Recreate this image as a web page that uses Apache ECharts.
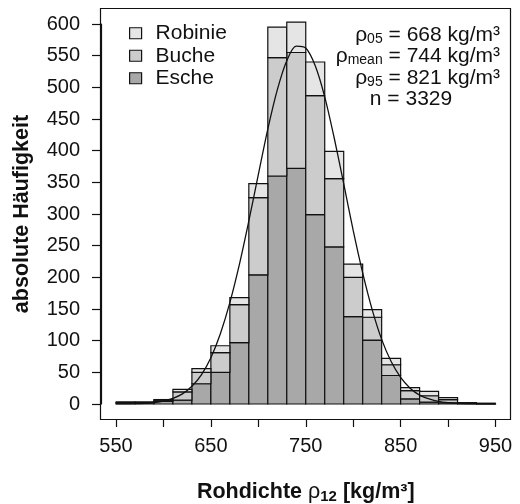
<!DOCTYPE html>
<html><head><meta charset="utf-8">
<script src="https://cdn.jsdelivr.net/npm/echarts@6/dist/echarts.min.js"></script>
<style>html,body{margin:0;padding:0;background:#fff}#c{width:520px;height:504px}</style>
</head><body><div id="c"></div>
<script>
// ---- data ----
const binStarts = [550,570,590,610,630,650,670,690,710,730,750,770,790,810,830,850,870,890,910,930];
const binWidth = 20;
const esche   = [2,2,4,6,32,50,97,204,360,372,299,248,138,101,45,8,3,2,1,0];
const buche   = [1,1,2,13,18,31,60,122,187,183,188,108,62,36,17,13,10,5,1,1];
const robinie = [0,0,1,4,6,11,11,22,48,48,53,43,21,12,10,5,7,3,0,0];
const curveX = [550,560,570,580,590,600,610,620,630,640,650,660,670,680,690,700,710,720,730,740,750,760,770,780,790,800,810,820,830,840,850,860,870,880,890,900,910,920,930,940,950];
const curveY = [0.1,0.2,0.5,1.1,2.4,4.7,8.9,16,28,46,73,111,160,220,289,362,434,496,542,565,562,534,485,420,348,274,207,149,102,67,42,25,14,8,4,2,1,0.4,0.2,0.1,0];
const xTickLabels = [550,650,750,850,950];
const statLines = [['05',' = 668 kg/m³'],['mean',' = 744 kg/m³'],['95',' = 821 kg/m³']];
const nText = 'n = 3329';

const FONT = "'Liberation Sans', Arial, Helvetica, sans-serif";
const chart = echarts.init(document.getElementById('c'), null, {renderer:'canvas'});

function stackData(arr, below) {
  return binStarts.map((s, i) => {
    let low = 0;
    below.forEach(b => { low += b[i]; });
    return [s, s + binWidth, low, low + arr[i]];
  });
}
function barSeries(name, color, arr, below) {
  return {
    type: 'custom', name: name,
    data: stackData(arr, below),
    encode: {x: [0, 1], y: [2, 3]},
    itemStyle: {color: color, borderColor: '#111', borderWidth: 1.2},
    z: 2,
    renderItem: function (params, api) {
      const p0 = api.coord([api.value(0), api.value(2)]);
      const p1 = api.coord([api.value(1), api.value(3)]);
      return {
        type: 'rect',
        shape: {x: p0[0], y: p1[1], width: p1[0] - p0[0], height: p0[1] - p1[1]},
        style: {fill: color, stroke: '#111', lineWidth: 1.2}
      };
    }
  };
}

const graphics = [
  {type: 'rect', shape: {x: 100.5, y: 8.5, width: 410, height: 411}, style: {fill: 'rgba(0,0,0,0)', stroke: '#111', lineWidth: 1.2}, z: 100, silent: true}
];
statLines.forEach((l, i) => {
  graphics.push({
    type: 'text', z: 10, silent: true,
    style: {
      text: '{r|ρ}{s|' + l[0] + '}{r|' + l[1] + '}',
      x: 500, y: 35 + i * 21.5, align: 'right', verticalAlign: 'middle',
      rich: {
        r: {fontSize: 21, fontFamily: FONT, fill: '#111', lineHeight: 22},
        s: {fontSize: 14, fontFamily: FONT, fill: '#111', lineHeight: 20, verticalAlign: 'bottom'}
      }
    }
  });
});
graphics.push({
  type: 'text', z: 10, silent: true,
  style: {text: nText, x: 411, y: 35 + 3 * 21.5, align: 'center', verticalAlign: 'middle',
    fontSize: 21, fontFamily: FONT, fill: '#111'}
});

chart.setOption({
  animation: false,
  backgroundColor: '#fff',
  textStyle: {fontFamily: FONT},
  grid: {left: 116, top: 24, width: 379.5, height: 380, containLabel: false, outerBoundsMode: 'none'},
  legend: {
    orient: 'vertical', left: 124, top: 17,
    data: ['Robinie', 'Buche', 'Esche'],
    icon: 'rect', itemWidth: 12, itemHeight: 11, itemGap: 0,
    itemStyle: {borderColor: '#111', borderWidth: 1.2},
    textStyle: {fontSize: 21, fontFamily: FONT, color: '#111', lineHeight: 22.5, padding: [0, 0, 0, 9]},
    selectedMode: false
  },
  xAxis: {
    type: 'value', min: 550, max: 950, interval: 50, offset: 15,
    axisLine: {show: true, onZero: false, lineStyle: {color: '#111', width: 1.2}},
    axisTick: {show: true, length: 8, lineStyle: {color: '#111', width: 1.2}},
    splitLine: {show: false},
    axisLabel: {
      fontSize: 20, color: '#111', margin: 17, fontFamily: FONT,
      formatter: v => xTickLabels.indexOf(v) >= 0 ? String(v) : ''
    },
    name: '{b|Rohdichte }{g|ρ}{sb|12}{b| [kg/m³]}',
    nameLocation: 'middle', nameGap: 61, nameMoveOverlap: false,
    nameTextStyle: {
      rich: {
        b: {fontSize: 21.5, fontWeight: 'bold', fontFamily: FONT, color: '#111', lineHeight: 24},
        g: {fontSize: 21.5, fontFamily: FONT, color: '#111', lineHeight: 24},
        sb: {fontSize: 15, fontWeight: 'bold', fontFamily: FONT, color: '#111', lineHeight: 15, verticalAlign: 'bottom'}
      }
    }
  },
  yAxis: {
    type: 'value', min: 0, max: 600, interval: 50, offset: 15,
    axisLine: {show: true, onZero: false, lineStyle: {color: '#111', width: 1.2}},
    axisTick: {show: true, length: 9, lineStyle: {color: '#111', width: 1.2}},
    splitLine: {show: false},
    axisLabel: {fontSize: 20, color: '#111', margin: 21, fontFamily: FONT},
    name: 'absolute Häufigkeit',
    nameLocation: 'middle', nameGap: 68, nameRotate: 90, nameMoveOverlap: false,
    nameTextStyle: {fontSize: 21.5, fontWeight: 'bold', fontFamily: FONT, color: '#111'}
  },
  series: [
    barSeries('Esche', '#A8A8A8', esche, []),
    barSeries('Buche', '#CCCCCC', buche, [esche]),
    barSeries('Robinie', '#E5E5E5', robinie, [esche, buche]),
    {
      type: 'line', name: 'Normal', data: curveX.map((x, i) => [x, curveY[i]]),
      smooth: 0.3, showSymbol: false, symbol: 'none', z: 5,
      lineStyle: {color: '#111', width: 1.3}
    }
  ],
  graphic: graphics
});
</script>
</body></html>
